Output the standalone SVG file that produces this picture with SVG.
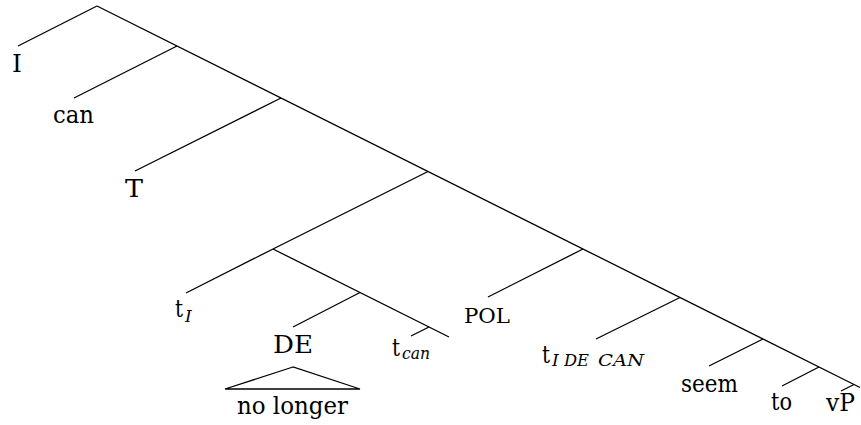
<svg xmlns="http://www.w3.org/2000/svg" width="861" height="425" viewBox="0 0 861 425">
  <style>
    .edge { stroke: #000; stroke-width: 1.3; fill: none; }
    text { fill: #000; font-family: 'DejaVu Serif', 'Liberation Serif', serif; }
    .lbl { font-size: 25px; }
    .sub { font-size: 17px; font-style: italic; }
    .sc { font-size: 21px; }
  </style>
  <rect width="861" height="425" fill="#fff"/>

  <!-- tree branches -->
  <g id="connectors">
    <!-- right-branching spine -->
    <line class="edge" x1="97" y1="6" x2="860" y2="387.5"/>
    <!-- left daughters along the spine -->
    <line class="edge" x1="97" y1="6" x2="18" y2="46"/>
    <line class="edge" x1="177" y1="46" x2="74" y2="98"/>
    <line class="edge" x1="281" y1="98" x2="135" y2="171"/>
    <line class="edge" x1="428" y1="171.5" x2="273" y2="249"/>
    <line class="edge" x1="583" y1="249" x2="488" y2="297"/>
    <line class="edge" x1="680" y1="297.5" x2="596" y2="339"/>
    <line class="edge" x1="763" y1="339" x2="709" y2="366"/>
    <line class="edge" x1="819" y1="367" x2="782" y2="386"/>
    <line class="edge" x1="854" y1="384.5" x2="841" y2="391"/>
    <!-- inner subtree -->
    <line class="edge" x1="273" y1="249" x2="449" y2="337"/>
    <line class="edge" x1="273" y1="249" x2="186" y2="293"/>
    <line class="edge" x1="360" y1="292.5" x2="293" y2="327"/>
    <line class="edge" x1="429" y1="327" x2="411" y2="336"/>
  </g>

  <g id="node-I"><text class="lbl" x="12" y="72">I</text></g>
  <g id="node-can"><text class="lbl" x="53" y="123" textLength="41" lengthAdjust="spacingAndGlyphs">can</text></g>
  <g id="node-T"><text class="lbl" x="125" y="197" textLength="18" lengthAdjust="spacingAndGlyphs">T</text></g>
  <g id="node-tI">
    <text class="lbl" x="175" y="317" textLength="8" lengthAdjust="spacingAndGlyphs">t</text>
    <text class="sub" x="185" y="322">I</text>
  </g>
  <g id="node-DE">
    <text class="lbl" x="273" y="353" textLength="40" lengthAdjust="spacingAndGlyphs">DE</text>
    <polygon points="293,367 225,389 360,389" fill="none" stroke="#000" stroke-width="1.3"/>
    <text class="lbl" x="237" y="414" textLength="111" lengthAdjust="spacingAndGlyphs">no longer</text>
  </g>
  <g id="node-tcan">
    <text class="lbl" x="392" y="356" textLength="8" lengthAdjust="spacingAndGlyphs">t</text>
    <text class="sub" x="402" y="359" textLength="28" lengthAdjust="spacingAndGlyphs">can</text>
  </g>
  <g id="node-POL"><text class="sc" x="464" y="323" textLength="46" lengthAdjust="spacingAndGlyphs">POL</text></g>
  <g id="node-tIDECAN">
    <text class="lbl" x="542" y="363" textLength="8" lengthAdjust="spacingAndGlyphs">t</text>
    <text class="sub" x="552" y="366">I</text>
    <text class="sub" x="564" y="366" textLength="25" lengthAdjust="spacingAndGlyphs">DE</text>
    <text class="sub" x="598" y="366" textLength="46" lengthAdjust="spacingAndGlyphs">CAN</text>
  </g>
  <g id="node-seem"><text class="lbl" x="681" y="392" textLength="57" lengthAdjust="spacingAndGlyphs">seem</text></g>
  <g id="node-to"><text class="lbl" x="771" y="410" textLength="21" lengthAdjust="spacingAndGlyphs">to</text></g>
  <g id="node-vP"><text class="lbl" x="826" y="411" textLength="29" lengthAdjust="spacingAndGlyphs">vP</text></g>
</svg>
